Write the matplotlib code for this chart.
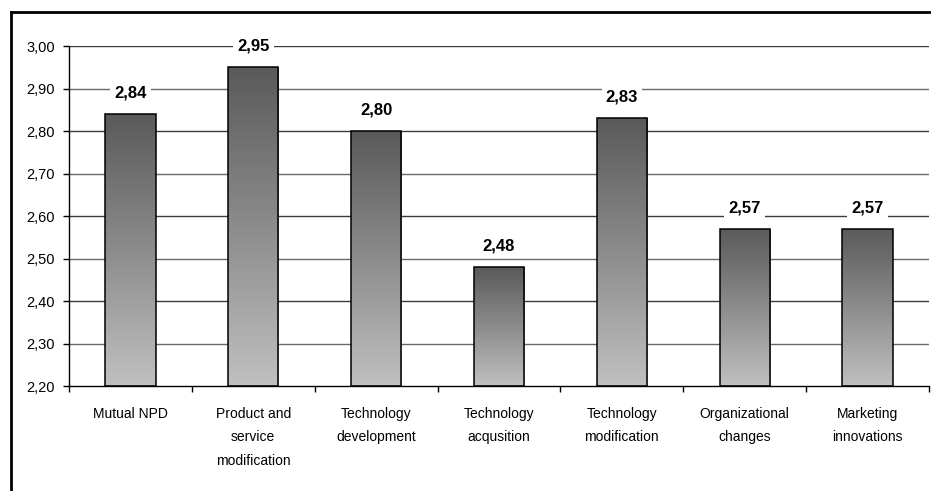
import numpy as np
import matplotlib.pyplot as plt
from matplotlib.lines import Line2D
from matplotlib.colors import LinearSegmentedColormap

plt.rcParams['font.family'] = ['Liberation Sans', 'DejaVu Sans']

# data
categories = ["Mutual NPD", "Product and\nservice\nmodification", "Technology\ndevelopment",
              "Technology\nacqusition", "Technology\nmodification", "Organizational\nchanges",
              "Marketing\ninnovations"]
values = [2.84, 2.95, 2.80, 2.48, 2.83, 2.57, 2.57]
yticks = [2.20, 2.30, 2.40, 2.50, 2.60, 2.70, 2.80, 2.90, 3.00]

fig = plt.figure(figsize=(9.31, 4.91), dpi=100)
ax = fig.add_axes([69/931, 1 - 386/491, 860/931, 340/491])

ymin, ymax = 2.20, 3.00
ax.set_ylim(ymin, ymax)
ax.set_xlim(-0.5, len(values) - 0.5)

# gridlines
for i, yv in enumerate(yticks[1:]):
    ax.axhline(yv, color='#3a3a3a' if i % 2 else '#6a6a6a', lw=1.0, zorder=1)

# gradient bars
cmap = LinearSegmentedColormap.from_list('g', ['#c0c0c0', '#8c8c8c', '#5a5a5a'])
grad = np.linspace(0, 1, 256).reshape(-1, 1)
x = np.arange(len(values))
bars = ax.bar(x, np.array(values) - ymin, bottom=ymin, width=0.41,
              facecolor='none', edgecolor='black', lw=1.1, zorder=3)
for b, v in zip(bars, values):
    x0 = b.get_x()
    im = ax.imshow(grad, cmap=cmap, aspect='auto', origin='lower',
                   extent=[x0, x0 + b.get_width(), ymin, v], zorder=2)
    im.set_clip_path(b)
    ax.text(b.get_x() + b.get_width() / 2, v + 0.05, f"{v:.2f}".replace('.', ','),
            ha='center', va='center', fontsize=12, fontweight='bold', zorder=4,
            bbox=dict(facecolor='white', edgecolor='none', pad=3))

ax.set_yticks(yticks)
ax.set_yticklabels([f"{t:.2f}".replace('.', ',') for t in yticks], fontsize=10.5)
ax.set_xticks(x)
ax.set_xticklabels(categories, fontsize=10, linespacing=1.85, va='top')
ax.set_xticks(np.arange(len(values) + 1) - 0.5, minor=True)
ax.tick_params(axis='x', which='major', length=0, pad=15)
ax.tick_params(axis='x', which='minor', length=4, width=1, direction='out')
ax.tick_params(axis='y', length=4, width=1, direction='out', pad=6)

for s in ['top', 'right']:
    ax.spines[s].set_visible(False)
for s in ['left', 'bottom']:
    ax.spines[s].set_color('black')
    ax.spines[s].set_linewidth(1.0)

# outer frame of the figure box
fig.add_artist(Line2D([11/931, 11/931], [0, 1 - 12/491], color='black', lw=2))
fig.add_artist(Line2D([11/931, 1], [1 - 12/491, 1 - 12/491], color='black', lw=2))

fig.savefig('out.png', dpi=100)
